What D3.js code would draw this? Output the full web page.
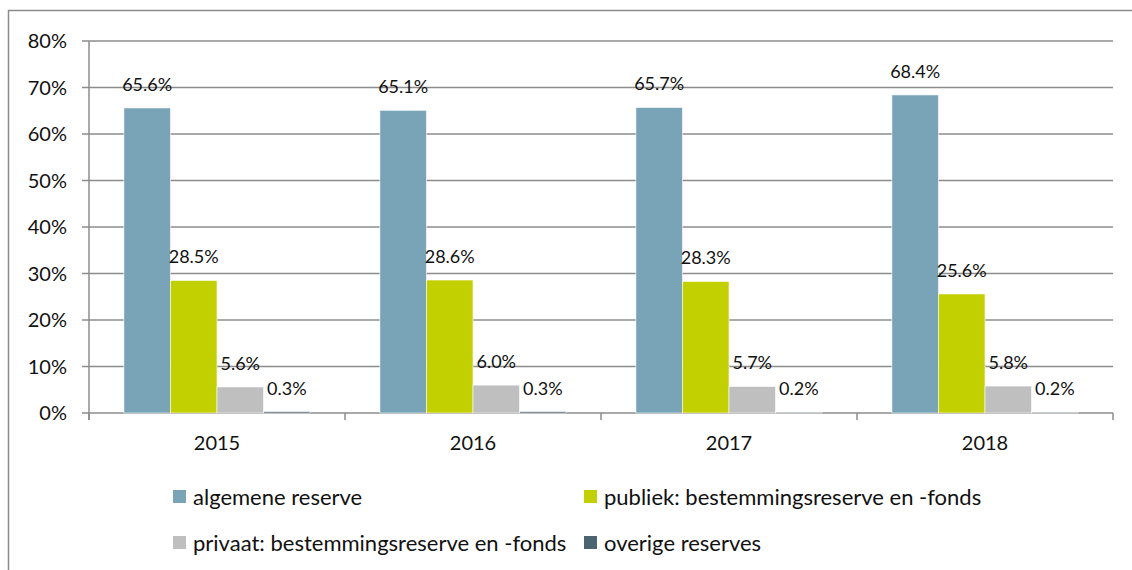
<!DOCTYPE html>
<html lang="en">
<head>
<meta charset="utf-8">
<style>
  body { margin: 0; background: #fff; }
  svg text { font-family: Lato, "Open Sans", sans-serif; fill: #111; }
  .tick_text { font-size: 20px; }
  .value_text { font-size: 18px; }
  .legend_text { font-size: 22px; }
</style>
</head>
<body>
<div id="graph"></div>
<script src="https://cdn.jsdelivr.net/npm/d3@7"></script>
<script>
// data
var years = ["2015", "2016", "2017", "2018"];
var series = ["algemene reserve", "publiek: bestemmingsreserve en -fonds",
              "privaat: bestemmingsreserve en -fonds", "overige reserves"];
var algemene = [65.6, 65.1, 65.7, 68.4];
var publiek = [28.5, 28.6, 28.3, 25.6];
var privaat = [5.6, 6.0, 5.7, 5.8];
var overige = [0.3, 0.3, 0.2, 0.2];
var yTicks = [0, 10, 20, 30, 40, 50, 60, 70, 80];
var colors = ["#79a3b7", "#c2cf00", "#bfbfbf", "#4a6470"];

var W = 1132, H = 570;
var plot = {left: 89, right: 1113, top: 41, bottom: 413};

var svg = d3.select("#graph").append("svg")
    .attr("width", W).attr("height", H);

// outer frame (left and top edges only are visible)
svg.append("path")
    .attr("d", "M8.5," + H + "V10.5H" + W)
    .attr("fill", "none").attr("stroke", "#8a8a8a").attr("stroke-width", 1.5);

var x = d3.scaleBand().domain(years).range([plot.left, plot.right]).paddingInner(0).paddingOuter(0);
var xs = d3.scaleBand().domain(d3.range(4)).range([0, x.bandwidth()]).paddingOuter(0.75).paddingInner(0);
var y = d3.scaleLinear().domain([0, 80]).range([plot.bottom, plot.top]);

// gridlines
svg.append("g").selectAll("line")
    .data(yTicks).enter().append("line")
    .attr("x1", plot.left - 7).attr("x2", plot.right)
    .attr("y1", function(d) { return y(d); }).attr("y2", function(d) { return y(d); })
    .attr("stroke", "#8c8c8c").attr("stroke-width", 1.5);

// y axis line
svg.append("line")
    .attr("x1", plot.left).attr("x2", plot.left)
    .attr("y1", plot.top).attr("y2", plot.bottom + 7)
    .attr("stroke", "#8c8c8c").attr("stroke-width", 1.5);

svg.append("g").selectAll("text")
    .data(yTicks).enter().append("text")
    .attr("class", "tick_text")
    .attr("x", 67).attr("y", function(d) { return y(d); })
    .attr("dy", "0.35em").attr("text-anchor", "end")
    .text(function(d) { return d + "%"; });

// x ticks
var xTickPos = years.map(function(d) { return x(d); }).concat([plot.right]);
svg.append("g").selectAll("line")
    .data(xTickPos).enter().append("line")
    .attr("x1", function(d) { return d; }).attr("x2", function(d) { return d; })
    .attr("y1", plot.bottom).attr("y2", plot.bottom + 7)
    .attr("stroke", "#8c8c8c").attr("stroke-width", 1.5);

svg.append("g").selectAll("text")
    .data(years).enter().append("text")
    .attr("class", "tick_text")
    .attr("x", function(d) { return x(d) + x.bandwidth() / 2; })
    .attr("y", 450).attr("text-anchor", "middle")
    .text(function(d) { return d; });

// bars
var allSeries = [algemene, publiek, privaat, overige];
var bars = [];
years.forEach(function(yr, i) {
  allSeries.forEach(function(s, j) {
    bars.push({year: yr, s: j, value: s[i]});
  });
});

svg.append("g").selectAll("rect")
    .data(bars).enter().append("rect")
    .attr("x", function(d) { return x(d.year) + xs(d.s); })
    .attr("y", function(d) { return y(d.value); })
    .attr("width", xs.bandwidth())
    .attr("height", function(d) { return plot.bottom - y(d.value); })
    .attr("fill", function(d) { return colors[d.s]; })
    .attr("stroke", "#fff").attr("stroke-width", 0.6);

svg.append("g").selectAll("text")
    .data(bars).enter().append("text")
    .attr("class", "value_text")
    .attr("x", function(d) { return x(d.year) + xs(d.s) + xs.bandwidth() / 2; })
    .attr("y", function(d) { return y(d.value) - 17; })
    .attr("text-anchor", "middle")
    .text(function(d) { return d.value.toFixed(1) + "%"; });

// legend
var legPos = [[173, 497], [584, 497], [173, 543], [584, 543]];
var leg = svg.append("g").selectAll("g")
    .data(series).enter().append("g")
    .attr("transform", function(d, i) { return "translate(" + legPos[i][0] + "," + legPos[i][1] + ")"; });
leg.append("rect")
    .attr("x", 0).attr("y", -7).attr("width", 13).attr("height", 13)
    .attr("fill", function(d, i) { return colors[i]; });
leg.append("text")
    .attr("class", "legend_text")
    .attr("x", 20).attr("y", 0).attr("dy", "0.35em")
    .text(function(d) { return d; });
</script>
</body>
</html>
